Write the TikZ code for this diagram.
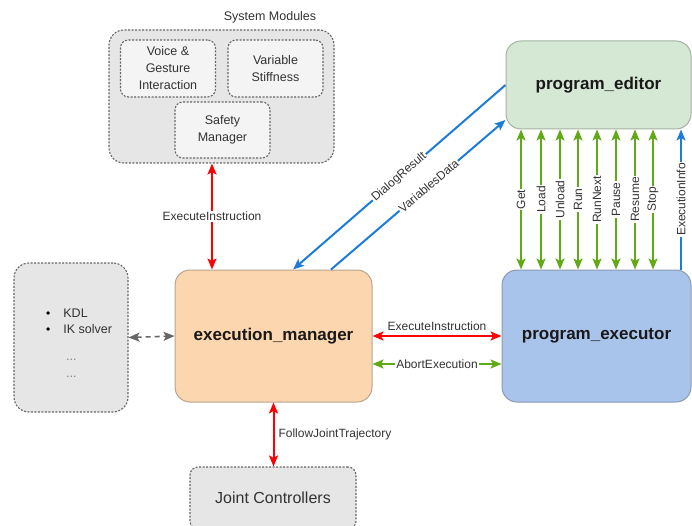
\documentclass[tikz,border=0pt]{standalone}
\usepackage{fontspec}
\setmainfont{Liberation Sans}
\usepackage{tikz}
\usetikzlibrary{arrows.meta,positioning,calc}
\definecolor{boxgray}{HTML}{E6E6E6}
\definecolor{innergray}{HTML}{F4F4F4}
\definecolor{dotgray}{HTML}{666666}
\definecolor{peach}{HTML}{FCD6AE}
\definecolor{peachline}{HTML}{B9A48F}
\definecolor{softgreen}{HTML}{D5E8D4}
\definecolor{greenline}{HTML}{A3B3A2}
\definecolor{skyblue}{HTML}{A9C4EB}
\definecolor{blueline}{HTML}{8A9AB3}
\definecolor{arrred}{HTML}{FF0000}
\definecolor{arrgreen}{HTML}{60A917}
\definecolor{arrblue}{HTML}{1C7CD8}
\definecolor{txtgray}{HTML}{333333}

\begin{document}
\begin{tikzpicture}[x=1pt,y=-1pt,
			>={Stealth[length=11pt,width=9pt,inset=2.5pt]},
			grp/.style={draw=dotgray,dash pattern=on 2pt off 1.5pt,line width=1.1pt,fill=boxgray,rounded corners=15pt},
			subbox/.style={draw=dotgray,dash pattern=on 2pt off 1.5pt,line width=1.1pt,fill=innergray,rounded corners=8pt,minimum width=95pt,minimum height=57pt,align=center,font=\fontsize{12.5}{17}\selectfont,text=txtgray},
			core/.style={draw,line width=1pt,rounded corners=15pt,font=\fontsize{17}{20}\selectfont\bfseries,text=black!90},
			lbl/.style={font=\fontsize{12}{13}\selectfont,text=txtgray,fill=white,inner sep=1pt},
			redarr/.style={<->,arrred,line width=2pt},
			greenarr/.style={<->,arrgreen,line width=2pt},
			bluearr/.style={->,arrblue,line width=2pt}
			]
			\useasboundingbox (0,0) rectangle (692,526);
			\node[grp,minimum width=225pt,minimum height=133pt] (sys) at (221.5,96.5) {};
			\node[font=\fontsize{12.5}{15}\selectfont,text=txtgray] (systitle) at (270,17) {System Modules};
			\node[subbox] (voice) at (168,68.5) {Voice \&\\Gesture\\Interaction};
			\node[subbox] (stiff) at (275.5,68.5) {Variable\\Stiffness};
			\node[subbox,minimum height=56pt] (safety) at (222.5,130) {Safety\\Manager};
			\node[grp,minimum width=114pt,minimum height=149pt] (lib) at (71,337.5) {};
			\node[anchor=north west,inner sep=0pt,align=left,font=\fontsize{12.5}{16}\selectfont,text=txtgray] (libtxt) at (46,308.5) {\textcolor{black}{\large\textbullet}\hspace{13pt}KDL\\\textcolor{black}{\large\textbullet}\hspace{13pt}IK solver\\[11.5pt]\hspace{20pt}\textcolor{gray}{...}\\[1pt]\hspace{20pt}\textcolor{gray}{...}};
			\node[core,fill=peach,draw=peachline,minimum width=197pt,minimum height=132pt] (em) at (273.5,336) {execution\_manager};
			\node[core,fill=skyblue,draw=blueline,minimum width=189pt,minimum height=132pt] (ex) at (596.5,336) {program\_executor};
			\node[core,fill=softgreen,draw=greenline,minimum width=185pt,minimum height=88pt] (ed) at (598.5,85) {program\_editor};
			\node[grp,rounded corners=8pt,minimum width=166pt,minimum height=62pt,font=\fontsize{16}{19}\selectfont,text=txtgray] (jc) at (273,498) {Joint Controllers};
			\draw[redarr] (212,0 |- sys.south) -- node[lbl]{ExecuteInstruction} (212,0 |- em.north);
			\draw[<->,dotgray,dash pattern=on 5pt off 4pt,line width=1.6pt] (lib.east) -- (em.west);
			\draw[redarr] (em.east) -- node[lbl,fill=none,above=3pt]{ExecuteInstruction} (ex.west);
			\draw[greenarr] ([yshift=-28]em.east) -- node[lbl]{AbortExecution} ([yshift=-28]ex.west);
			\draw[redarr] (em.south) -- node[lbl,fill=none,right=3pt]{FollowJointTrajectory} (em.south |- jc.north);
			\draw[bluearr] (ed.west) -- node[lbl,sloped]{DialogResult} ([xshift=19.5]em.north);
			\draw[bluearr] ([xshift=57.5]em.north) -- node[lbl,sloped,pos=0.56]{VariablesData} ([yshift=-35]ed.west);
			\foreach \x/\cmd in {521/Get,541/Load,560/Unload,578/Run,597/RunNext,616/Pause,635/Resume,653/Stop}
				\draw[greenarr] (\x,0 |- ed.south) -- node[lbl,rotate=90]{\cmd} (\x,0 |- ex.north);
			\draw[bluearr] (681,0 |- ex.north) -- node[lbl,rotate=90]{ExecutionInfo} (681,0 |- ed.south);
		\end{tikzpicture}
\end{document}
